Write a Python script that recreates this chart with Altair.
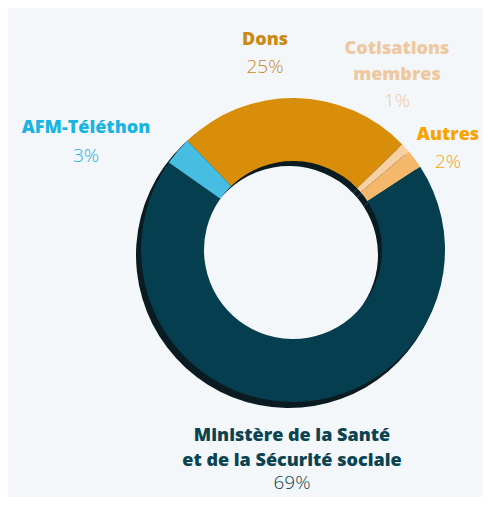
import math
import altair as alt
import pandas as pd

# ---- data ----
categories = ["Dons", "Cotisations membres", "Autres",
              "Ministère de la Santé et de la Sécurité sociale", "AFM-Téléthon"]
values = [25, 1, 2, 69, 3]
order = [1, 2, 3, 4, 5]
slice_colors = ["#D98E0B", "#F8D1A2", "#F4B86C", "#053F4F", "#48BDE2"]

label_titles = [["Dons"], ["Cotisations", "membres"], ["Autres"],
                ["Ministère de la Santé", "et de la Sécurité sociale"], ["AFM-Téléthon"]]
label_pcts = ["25%", "1%", "2%", "69%", "3%"]
label_colors = ["#CB8A17", "#EEC9A0", "#F6A400", "#0B4350", "#19B4E0"]

df = pd.DataFrame({"cat": categories, "value": values, "ord": order})

W, H = 475, 489
CX, CY = 285, 242
R_OUT, R_IN = 152, 89
start = math.radians(-44)

theta = alt.Theta("value:Q", stack=True,
                  scale=alt.Scale(range=[start, start + 2 * math.pi]))

base = alt.Chart(df)

shadow = base.mark_arc(outerRadius=R_OUT + 1, innerRadius=R_IN, color="#0B1B22").encode(
    theta=theta, order=alt.Order("ord:Q"),
    x=alt.value(CX - 4), y=alt.value(CY + 5),
)

ring = base.mark_arc(outerRadius=R_OUT, innerRadius=R_IN).encode(
    theta=theta,
    order=alt.Order("ord:Q"),
    color=alt.Color("cat:N", scale=alt.Scale(domain=categories, range=slice_colors), legend=None),
    x=alt.value(CX), y=alt.value(CY),
)

# label layout (page positions minus 8px margin)
label_pos = {
    "Dons": (257, [32], 59),
    "Cotisations membres": (389, [41, 67], 93),
    "Autres": (440, [127], 154),
    "Ministère de la Santé et de la Sécurité sociale": (284, [428, 453], 475),
    "AFM-Téléthon": (78, [120], 148),
}

text_layers = []
for cat, titles, pct, col in zip(categories, label_titles, label_pcts, label_colors):
    x, ys, ypct = label_pos[cat]
    for t, y in zip(titles, ys):
        text_layers.append(
            alt.Chart(pd.DataFrame({"t": [t]})).mark_text(
                font="Open Sans", fontWeight=800, fontSize=18, color=col,
                align="center", baseline="middle",
            ).encode(text="t:N", x=alt.value(x), y=alt.value(y))
        )
    text_layers.append(
        alt.Chart(pd.DataFrame({"t": [pct]})).mark_text(
            font="Open Sans", fontWeight=300, fontSize=19, color=col,
            align="center", baseline="middle",
        ).encode(text="t:N", x=alt.value(x), y=alt.value(ypct))
    )

chart = alt.layer(shadow, ring, *text_layers).properties(
    width=W, height=H, autosize=alt.AutoSizeParams(type="none"), padding=0,
    background="#F4F7F9",
).configure_view(stroke=None)

chart.save("out.html", embed_options={"renderer": "svg", "actions": False})
